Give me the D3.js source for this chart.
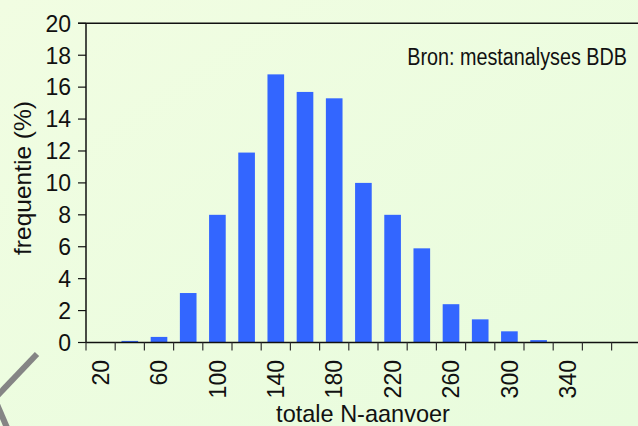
<!DOCTYPE html>
<html>
<head>
<meta charset="utf-8">
<script src="https://cdn.jsdelivr.net/npm/d3@7"></script>
<style>
  html, body { margin: 0; padding: 0; background: #eefde0; }
  svg { display: block; }
</style>
</head>
<body>
<svg id="chart" width="638" height="426"></svg>
<script>
// ---- data ----
const categories = [20, 40, 60, 80, 100, 120, 140, 160, 180, 200, 220, 240, 260, 280, 300, 320, 340, 360, 380];
const frequencies = [0, 0.1, 0.35, 3.1, 8.0, 11.9, 16.8, 15.7, 15.3, 10.0, 8.0, 5.9, 2.4, 1.45, 0.7, 0.15, 0, 0, 0];
const xTickLabels = [20, 60, 100, 140, 180, 220, 260, 300, 340];
const yTicks = [0, 2, 4, 6, 8, 10, 12, 14, 16, 18, 20];
const xTitle = "totale N-aanvoer";
const yTitle = "frequentie (%)";
const sourceNote = "Bron: mestanalyses BDB";

// ---- layout ----
const W = 638, H = 426;
const svg = d3.select("#chart");

const defs = svg.append("defs");
const grad = defs.append("linearGradient").attr("id", "bg")
  .attr("x1", "0").attr("y1", "0").attr("x2", "1").attr("y2", "1");
grad.append("stop").attr("offset", "0").attr("stop-color", "#f1fde2");
grad.append("stop").attr("offset", "1").attr("stop-color", "#e8fcdd");
svg.append("rect").attr("width", W).attr("height", H).attr("fill", "url(#bg)");

// decorative grey strokes bottom-left
svg.append("line").attr("x1", -3).attr("y1", 396).attr("x2", 37).attr("y2", 354)
  .attr("stroke", "#858585").attr("stroke-width", 6);
svg.append("line").attr("x1", -4).attr("y1", 402).attr("x2", 8).attr("y2", 430)
  .attr("stroke", "#858585").attr("stroke-width", 6);

const x0 = 86, step = 29.2;
const pIn = 0.43;
const x = d3.scaleBand()
  .domain(categories)
  .range([x0, x0 + step * categories.length])
  .paddingInner(pIn)
  .paddingOuter(pIn / 2);

const y = d3.scaleLinear().domain([0, 20]).range([342.5, 23.3]);

// bars
svg.append("g").selectAll("rect")
  .data(categories.map((c, i) => ({ c, v: frequencies[i] })))
  .join("rect")
  .attr("x", d => x(d.c))
  .attr("width", x.bandwidth())
  .attr("y", d => y(d.v))
  .attr("height", d => y(0) - y(d.v))
  .attr("fill", "#3366ff");

const tickFont = "'Liberation Sans Narrow', 'Arial Narrow', 'Liberation Sans', Arial, sans-serif";
const mainFont = "'Liberation Sans', Arial, sans-serif";

// y axis
const yAxis = svg.append("g");
yAxis.append("line").attr("x1", x0).attr("x2", x0).attr("y1", y(20)).attr("y2", y(0))
  .attr("stroke", "#111").attr("stroke-width", 1.5);
yAxis.selectAll("line.tk").data(yTicks).join("line").attr("class", "tk")
  .attr("x1", x0 - 8).attr("x2", x0).attr("y1", d => y(d)).attr("y2", d => y(d))
  .attr("stroke", "#111").attr("stroke-width", 1.2);
yAxis.selectAll("text").data(yTicks).join("text")
  .attr("x", 71).attr("y", d => y(d)).attr("dy", "0.36em")
  .attr("text-anchor", "end")
  .attr("font-family", tickFont).attr("font-size", 23).attr("fill", "#111")
  .text(d => d);

// top border line
svg.append("line").attr("x1", x0 - 8).attr("x2", W).attr("y1", y(20)).attr("y2", y(20))
  .attr("stroke", "#111").attr("stroke-width", 1.5);

// x axis
const xAxis = svg.append("g");
xAxis.append("line").attr("x1", x0).attr("x2", W).attr("y1", y(0)).attr("y2", y(0))
  .attr("stroke", "#111").attr("stroke-width", 1.5);
const gap = (x.step() - x.bandwidth()) / 2;
xAxis.selectAll("line.tk").data(categories).join("line").attr("class", "tk")
  .attr("x1", d => x(d) - gap).attr("x2", d => x(d) - gap)
  .attr("y1", y(0)).attr("y2", y(0) + 8)
  .attr("stroke", "#333").attr("stroke-width", 1.2);
xAxis.selectAll("text").data(xTickLabels).join("text")
  .attr("transform", d => `translate(${x(d) + x.bandwidth() / 2},360) rotate(-90)`)
  .attr("dy", "0.36em")
  .attr("text-anchor", "end")
  .attr("font-family", tickFont).attr("font-size", 23).attr("fill", "#111")
  .text(d => d);

// titles
svg.append("text")
  .attr("transform", "translate(363,422) scale(0.98,1)")
  .attr("text-anchor", "middle")
  .attr("font-family", mainFont).attr("font-size", 24)
  .attr("fill", "#111").text(xTitle);

svg.append("text")
  .attr("transform", "translate(31,178) rotate(-90)")
  .attr("text-anchor", "middle")
  .attr("font-family", mainFont).attr("font-size", 24.5)
  .attr("fill", "#111").text(yTitle);

svg.append("text")
  .attr("transform", "translate(627,65) scale(0.86,1)")
  .attr("text-anchor", "end")
  .attr("font-family", mainFont).attr("font-size", 23)
  .attr("fill", "#111").text(sourceNote);
</script>
</body>
</html>
